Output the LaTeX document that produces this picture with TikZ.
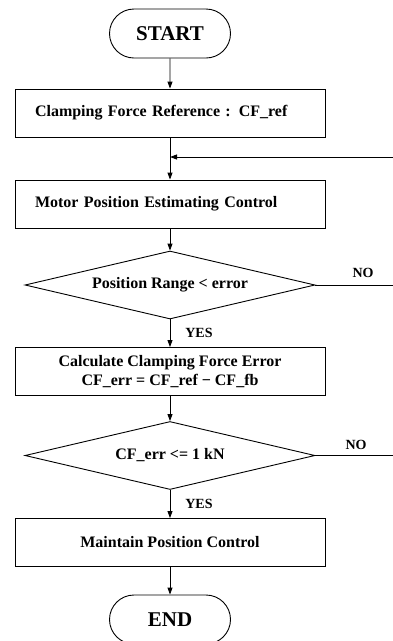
\documentclass[tikz,border=0pt]{standalone}
\usepackage{fontspec}
\setmainfont{Liberation Serif}
\usetikzlibrary{arrows.meta, shapes.geometric, shapes.misc}

\begin{document}
\begin{tikzpicture}[x=1pt, y=-1pt,
        terminal/.style={rounded rectangle, draw, line width=0.9pt, minimum width=121pt, minimum height=49pt, inner sep=0pt, font=\fontsize{21}{24}\selectfont\bfseries},
        procbox/.style={rectangle, draw, line width=0.9pt, minimum width=310pt, minimum height=48pt, align=center, font=\fontsize{16}{19}\selectfont\bfseries},
        leftbox/.style={procbox, text width=270pt, inner xsep=20pt, align=left},
        decision/.style={diamond, draw, line width=0.9pt, aspect=4.26, minimum width=290pt, minimum height=68pt, inner sep=0pt, font=\fontsize{16}{19}\selectfont\bfseries},
        flow/.style={line width=0.9pt, -{Triangle[length=7pt, width=5pt]}},
        plain/.style={line width=0.9pt},
        lbl/.style={font=\fontsize{14}{16}\selectfont\bfseries}]
            \useasboundingbox (0, 0) rectangle (393, 641);

            \node[terminal] at (170, 33.5)   (start) {START};
            \node[leftbox]  at (170, 113)    (cfref) {Clamping Force Reference : CF\_ref};
            \node[leftbox]  at (170, 204)    (motor) {Motor Position Estimating Control};
            \node[decision] at (170, 285)    (range) {Position Range < error};
            \node[procbox]  at (170, 371.5)  (calc)  {Calculate Clamping Force Error\\CF\_err = CF\_ref − CF\_fb};
            \node[decision] at (170, 455.5)  (check) {CF\_err <= 1 kN};
            \node[procbox]  at (170, 542.5)  (keep)  {Maintain Position Control};
            \node[terminal] at (170, 619.5)  (end)   {END};

            \coordinate (merge) at (170, 157);
            \coordinate (fbin)  at (393, 157);
            \coordinate (noa)   at (393, 285);
            \coordinate (nob)   at (393, 455.5);

            \node[lbl] at (363, 273) (noalbl)  {NO};
            \node[lbl] at (356, 445) (noblbl)  {NO};
            \node[lbl] at (199, 333) (yesalbl) {YES};
            \node[lbl] at (199, 504) (yesblbl) {YES};

            \draw [flow] (start) -- (cfref);
            \draw [flow] (cfref) -- (motor);
            \draw [flow] (fbin) -- (merge);
            \draw [flow] (motor) -- (range);
            \draw [flow] (range) -- (calc);
            \draw [flow] (calc) -- (check);
            \draw [flow] (check) -- (keep);
            \draw [flow] (keep) -- (end);
            \draw [plain] (range.east) -- (noa);
            \draw [plain] (check.east) -- (nob);
        \end{tikzpicture}
\end{document}
